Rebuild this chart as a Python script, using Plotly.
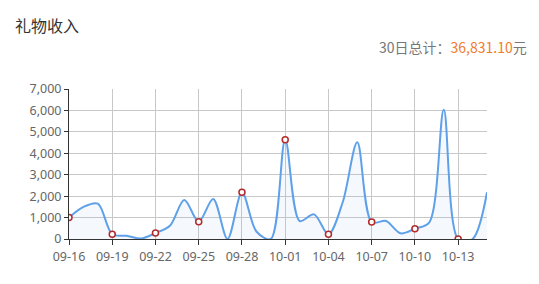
import plotly.graph_objects as go

dates = ["09-16","09-17","09-18","09-19","09-20","09-21","09-22","09-23","09-24","09-25",
         "09-26","09-27","09-28","09-29","09-30","10-01","10-02","10-03","10-04","10-05",
         "10-06","10-07","10-08","10-09","10-10","10-11","10-12","10-13","10-14","10-15"]
values = [1000,1500,1650,220,150,20,280,620,1820,810,
          1870,0,2180,350,0,4630,840,1150,220,1740,
          4510,790,840,265,480,780,6030,0,0,2180]
y_ticks = [0,1000,2000,3000,4000,5000,6000,7000]
title_text = "礼物收入"
total_label = "30日总计："
total_value = "36,831.10"
unit = "元"

mk_idx = list(range(0, len(dates), 3))
tick_dates = [dates[i] for i in mk_idx]

FONT = "Noto Sans CJK SC"
TICKFONT = "Noto Sans"
fig = go.Figure()
fig.add_trace(go.Scatter(
    x=dates, y=values, mode="lines",
    line=dict(color="#5ea1e9", width=2, shape="spline", smoothing=0.9),
    fill="tozeroy", fillcolor="rgba(124,181,236,0.08)",
    hoverinfo="skip", showlegend=False))
fig.add_trace(go.Scatter(
    x=[dates[i] for i in mk_idx], y=[values[i] for i in mk_idx], mode="markers",
    marker=dict(size=6, color="white", line=dict(color="#b22a2a", width=1.5)),
    showlegend=False))

fig.update_layout(
    width=539, height=284,
    margin=dict(l=69, r=52, t=89, b=45),
    paper_bgcolor="white", plot_bgcolor="white",
    font=dict(family=FONT, size=12, color="#666"),
    annotations=[
        dict(text=title_text, xref="paper", yref="paper", x=(13 - 69) / 418, y=1 + 64 / 150,
             xanchor="left", yanchor="middle", showarrow=False,
             font=dict(size=16, color="#333", family=FONT)),
        dict(text=f"{total_label}<span style='color:#f07c2d'>{total_value}</span>{unit}",
             xref="paper", yref="paper", x=1 + 42 / 418, y=1 + 42 / 150,
             xanchor="right", yanchor="middle", showarrow=False,
             font=dict(size=14, color="#777", family=FONT)),
    ],
)
fig.update_xaxes(
    type="category", range=[0, len(dates) - 1],
    tickmode="array", tickvals=tick_dates, ticktext=tick_dates,
    showgrid=True, gridcolor="#c8c8c8", gridwidth=1,
    showline=True, linecolor="#333", linewidth=1,
    ticks="outside", ticklen=5, tickcolor="#333", ticklabelstandoff=1,
    tickfont=dict(size=12.5, color="#666", family=TICKFONT), zeroline=False)
fig.update_yaxes(
    range=[0, 7000], tickvals=y_ticks, tickformat=",d",
    showgrid=True, gridcolor="#c8c8c8", gridwidth=1,
    showline=True, linecolor="#333", linewidth=1,
    ticks="outside", ticklen=4, tickcolor="#333",
    tickfont=dict(size=12.5, color="#666", family=TICKFONT), zeroline=False)

fig.write_html("out.html")
